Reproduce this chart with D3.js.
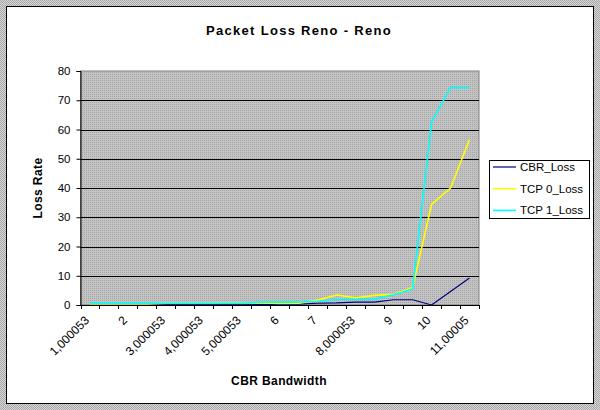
<!DOCTYPE html>
<html>
<head>
<meta charset="utf-8">
<script src="https://cdn.jsdelivr.net/npm/d3@7"></script>
<style>
  html, body { margin: 0; padding: 0; background: #fff; }
  svg { display: block; }
  text { font-family: "Liberation Sans", Arial, sans-serif; fill: #000; }
</style>
</head>
<body>
<svg id="chart" width="600" height="410"></svg>
<script>
// ---- data ----
const categories = ["1,000053","1,500053","2","2,500053","3,000053","3,500053","4,000053","4,500053",
  "5,000053","5,500053","6","6,5","7","7,500053","8,000053","8,500053","9","9,5","10","10,5","11,00005"];
const cbrLoss  = [0.3,0.3,0.3,0.3,0.3,0.3,0.3,0.3,0.3,0.2,0.2,0.3,0.6,0.7,1.0,1.0,1.8,1.8,0,4.6,9.2];
const tcp0Loss = [0.4,0.4,0.4,0.4,0.6,0.6,0.6,0.7,0.7,0.7,0.5,0.6,1.7,3.4,2.5,3.3,3.7,6.0,34.4,40.0,56.6];
const tcp1Loss = [0.6,0.6,0.6,0.6,0.6,0.6,0.6,0.6,0.6,1.0,1.0,1.0,1.3,1.9,1.9,2.0,3.5,5.5,62.5,74.3,74.3];
const seriesNames = ["CBR_Loss","TCP 0_Loss","TCP 1_Loss"];
const seriesColors = ["#000080","#ffff00","#00ffff"];
const yTicks = [0,10,20,30,40,50,60,70,80];
const chartTitle = "Packet Loss Reno - Reno";
const xTitle = "CBR Bandwidth";
const yTitle = "Loss Rate";

const svg = d3.select("#chart");
const defs = svg.append("defs");

// outer checker pattern
const pOut = defs.append("pattern").attr("id","outer").attr("width",2).attr("height",2).attr("patternUnits","userSpaceOnUse");
pOut.append("rect").attr("width",2).attr("height",2).attr("fill","#d6d6d6");
pOut.append("rect").attr("width",1).attr("height",1).attr("fill","#a8a8a8");
pOut.append("rect").attr("x",1).attr("y",1).attr("width",1).attr("height",1).attr("fill","#a8a8a8");

// plot area dotted pattern
const pIn = defs.append("pattern").attr("id","plotbg").attr("width",2).attr("height",2).attr("patternUnits","userSpaceOnUse");
pIn.append("rect").attr("width",2).attr("height",2).attr("fill","#c4c4c4");
pIn.append("rect").attr("width",1).attr("height",1).attr("fill","#a4a4a4");

svg.append("rect").attr("width",600).attr("height",410).attr("fill","url(#outer)");
svg.append("rect").attr("x",6.5).attr("y",6.5).attr("width",587).attr("height",397)
  .attr("fill","#fff").attr("stroke","#000").attr("stroke-width",1);

const L = 80.5, R = 479, T = 71, B = 305;

const x = d3.scaleBand().domain(d3.range(categories.length)).range([L, R]).padding(0);
const y = d3.scaleLinear().domain([0, 80]).range([B, T]);

// plot background
svg.append("rect").attr("x",L).attr("y",T).attr("width",R-L).attr("height",B-T)
  .attr("fill","url(#plotbg)").attr("stroke","#808080").attr("stroke-width",1);

// gridlines
svg.append("g").selectAll("line").data(yTicks.filter(v => v > 0 && v < 80)).join("line")
  .attr("x1",L).attr("x2",R)
  .attr("y1",d => Math.round(y(d))+0.5).attr("y2",d => Math.round(y(d))+0.5)
  .attr("stroke","#000").attr("stroke-width",1);

// y axis
const yAxis = d3.axisLeft(y).tickValues(yTicks).tickSize(4).tickPadding(6);
const gy = svg.append("g").attr("transform",`translate(${L},0)`).call(yAxis);
gy.select(".domain").attr("stroke","#000");
gy.selectAll(".tick line").attr("stroke","#000");
gy.selectAll(".tick text").attr("font-size",11.5).attr("font-family","Liberation Sans, Arial, sans-serif");

// x axis line + ticks at category boundaries
const gx = svg.append("g");
gx.append("line").attr("x1",L).attr("x2",R).attr("y1",B+0.5).attr("y2",B+0.5).attr("stroke","#000");
const bounds = d3.range(categories.length + 1).map(i => i < categories.length ? x(i) : x(categories.length-1) + x.bandwidth());
gx.selectAll("line.tk").data(bounds).join("line").attr("class","tk")
  .attr("x1",d => Math.round(d)+0.5).attr("x2",d => Math.round(d)+0.5)
  .attr("y1",B).attr("y2",B+4).attr("stroke","#000");

// x labels (every other category)
gx.selectAll("text.xl").data(categories.map((c,i)=>({c,i})).filter(d => d.i % 2 === 0)).join("text")
  .attr("class","xl")
  .attr("transform",d => `translate(${x(d.i)+x.bandwidth()/2 - 3},${B+13}) rotate(-45)`)
  .attr("text-anchor","end").attr("font-size",12).attr("dy","0.35em")
  .text(d => d.c);

// lines
const allSeries = [cbrLoss, tcp0Loss, tcp1Loss];
const line = d3.line().x((d,i) => x(i) + x.bandwidth()/2).y(d => y(d));
svg.append("g").selectAll("path").data(allSeries).join("path")
  .attr("d", d => line(d))
  .attr("fill","none")
  .attr("stroke",(d,i) => seriesColors[i])
  .attr("stroke-width",(d,i) => i === 0 ? 1.2 : 1.6)
  .attr("stroke-linejoin","round");

// titles
svg.append("text").attr("x",299).attr("y",35).attr("text-anchor","middle")
  .attr("font-size",13).attr("font-weight","bold").attr("letter-spacing","1.3px").text(chartTitle);
svg.append("text").attr("x",279).attr("y",385).attr("text-anchor","middle")
  .attr("font-size",12).attr("font-weight","bold").attr("letter-spacing","0.4px").text(xTitle);
svg.append("text").attr("transform",`translate(42,${(T+B)/2}) rotate(-90)`).attr("text-anchor","middle")
  .attr("font-size",12).attr("font-weight","bold").attr("letter-spacing","0.4px").text(yTitle);

// legend
const lg = svg.append("g");
lg.append("rect").attr("x",489.5).attr("y",160.5).attr("width",100).attr("height",58)
  .attr("fill","#fff").attr("stroke","#000");
seriesNames.forEach((n,i) => {
  const yy = 167 + i*21.7;
  lg.append("line").attr("x1",493).attr("x2",516).attr("y1",yy).attr("y2",yy)
    .attr("stroke",seriesColors[i]).attr("stroke-width",i===0?1.2:1.6);
  lg.append("text").attr("x",520).attr("y",yy).attr("dy","0.35em").attr("font-size",11.5).text(n);
});
</script>
</body>
</html>
